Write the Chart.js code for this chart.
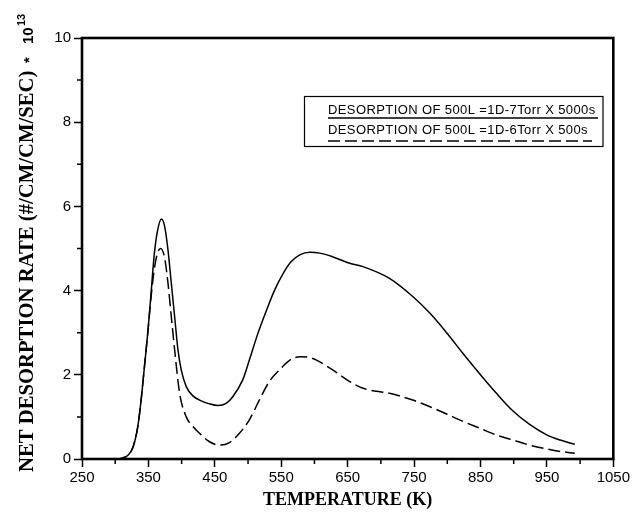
<!DOCTYPE html>
<html>
<head>
<meta charset="utf-8">
<script src="https://cdn.jsdelivr.net/npm/chart.js@4.4.1/dist/chart.umd.min.js"></script>
<style>
  html, body { margin: 0; padding: 0; background: #fff; }
  #wrap { width: 632px; height: 518px; }
</style>
</head>
<body>
<div id="wrap"><canvas id="tpdChart" width="632" height="518"></canvas></div>
<script>
// values, rate in units of 1e13 #/cm/cm/sec
const tempsA = [300, 310, 320, 327, 334, 339, 344, 349, 354, 359, 364, 369.5, 374.5, 379.5, 384.5, 389.5, 394.5, 399.5, 407, 417, 427, 442, 454.5, 467, 477, 492, 502, 515, 528, 540, 553, 565, 578, 593, 608, 628, 653, 673, 713, 748, 774, 799, 824, 849, 874, 899, 924, 949, 970, 992];
const rateA = [0, 0.02, 0.1, 0.29, 0.77, 1.40, 2.19, 2.99, 3.94, 4.89, 5.44, 5.70, 5.52, 4.96, 4.17, 3.38, 2.59, 2.11, 1.72, 1.50, 1.40, 1.31, 1.27, 1.32, 1.48, 1.88, 2.35, 2.99, 3.54, 4.01, 4.41, 4.69, 4.85, 4.91, 4.89, 4.80, 4.65, 4.57, 4.29, 3.86, 3.46, 3.00, 2.50, 2.02, 1.56, 1.14, 0.82, 0.58, 0.45, 0.35];

const tempsB = [300, 310, 320, 327, 334, 339, 344, 349, 354, 359.4, 364.4, 368.5, 374.5, 379.5, 384.5, 389.5, 397, 407, 417, 427, 442, 457, 472, 487, 502, 517, 532, 547, 563, 578, 593, 603, 628, 653, 673, 713, 748, 774, 799, 824, 849, 874, 899, 924, 949, 970, 992];
const rateB = [0, 0.02, 0.1, 0.29, 0.77, 1.40, 2.19, 2.99, 3.85, 4.57, 4.92, 5.0, 4.77, 4.17, 3.38, 2.59, 1.56, 1.0, 0.77, 0.61, 0.41, 0.33, 0.39, 0.61, 0.93, 1.40, 1.84, 2.11, 2.35, 2.43, 2.41, 2.35, 2.11, 1.84, 1.68, 1.56, 1.40, 1.24, 1.07, 0.89, 0.73, 0.57, 0.45, 0.33, 0.24, 0.18, 0.135];

const seriesLabels = ['DESORPTION OF 500L =1D-7Torr X 5000s', 'DESORPTION OF 500L =1D-6Torr X 500s'];
const xTicks = [250, 350, 450, 550, 650, 750, 850, 950, 1050];
const xMinorTicks = [300, 400, 500, 600, 700, 800, 900, 1000];
const yTicks = [0, 2, 4, 6, 8, 10];
const yMinorTicks = [1, 3, 5, 7, 9];
const yTitle = 'NET DESORPTION RATE (#/CM/CM/SEC)';
const xTitle = 'TEMPERATURE (K)';

const toPoints = (xs, ys) => xs.map((x, i) => ({ x: x, y: ys[i] }));

// frame, minor ticks, y title with exponent, boxed legend
const decorations = {
    id: 'decorations',
    afterDraw(chart) {
        const ctx = chart.ctx;
        const area = chart.chartArea;
        const xs = chart.scales.x;
        const ys = chart.scales.y;
        ctx.save();

        ctx.strokeStyle = '#000';
        ctx.lineWidth = 2.6;
        ctx.strokeRect(area.left, area.top, area.right - area.left, area.bottom - area.top);

        ctx.lineWidth = 1.5;
        ctx.beginPath();
        xMinorTicks.forEach(v => {
            const px = xs.getPixelForValue(v);
            ctx.moveTo(px, area.bottom);
            ctx.lineTo(px, area.bottom + 5);
        });
        yMinorTicks.forEach(v => {
            const py = ys.getPixelForValue(v);
            ctx.moveTo(area.left, py);
            ctx.lineTo(area.left - 5, py);
        });
        ctx.stroke();

        // y title
        ctx.fillStyle = '#000';
        ctx.translate(28, 472);
        ctx.rotate(-Math.PI / 2);
        ctx.textAlign = 'left';
        ctx.textBaseline = 'middle';
        ctx.font = 'bold 20.7px "Liberation Serif"';
        ctx.fillText(yTitle, 0, 0);
        ctx.font = 'bold 15px "Liberation Sans"';
        ctx.fillText('*', 409, 2);
        ctx.fillText('10', 428, 1);
        ctx.font = 'bold 11px "Liberation Sans"';
        ctx.fillText('13', 446, -6);
        ctx.restore();

        // legend box
        ctx.save();
        ctx.strokeStyle = '#000';
        ctx.lineWidth = 1.2;
        ctx.strokeRect(304.5, 96.5, 298.5, 50);
        ctx.fillStyle = '#000';
        ctx.font = '13px "Liberation Sans"';
        ctx.letterSpacing = '0.4px';
        ctx.textAlign = 'left';
        ctx.textBaseline = 'alphabetic';
        ctx.fillText(seriesLabels[0], 328, 114);
        ctx.fillText(seriesLabels[1], 328, 134);
        ctx.lineWidth = 1.4;
        ctx.beginPath();
        ctx.moveTo(328, 118);
        ctx.lineTo(598, 118);
        ctx.stroke();
        ctx.setLineDash([12, 5]);
        ctx.beginPath();
        ctx.moveTo(328, 141);
        ctx.lineTo(592, 141);
        ctx.stroke();
        ctx.restore();
    }
};

const tickFont = { family: 'Liberation Sans', size: 15 };

new Chart(document.getElementById('tpdChart'), {
    type: 'line',
    data: {
        datasets: [
            {
                label: seriesLabels[0],
                data: toPoints(tempsA, rateA),
                borderColor: '#000',
                borderWidth: 1.5,
                pointRadius: 0,
                fill: false,
                cubicInterpolationMode: 'monotone'
            },
            {
                label: seriesLabels[1],
                data: toPoints(tempsB, rateB),
                borderColor: '#000',
                borderWidth: 1.5,
                borderDash: [12, 5],
                pointRadius: 0,
                fill: false,
                cubicInterpolationMode: 'monotone'
            }
        ]
    },
    options: {
        responsive: false,
        animation: false,
        devicePixelRatio: 1,
        layout: { padding: { top: 38, right: 17, left: 0, bottom: 0 } },
        plugins: {
            legend: { display: false },
            tooltip: { enabled: false }
        },
        scales: {
            x: {
                type: 'linear',
                min: 250,
                max: 1050,
                afterBuildTicks: s => { s.ticks = xTicks.map(v => ({ value: v })); },
                afterFit: s => { s.height = 59; },
                border: { display: false },
                grid: { drawOnChartArea: false, tickLength: 8, tickWidth: 1.5, tickColor: '#000' },
                ticks: {
                    color: '#000',
                    font: tickFont,
                    padding: 2,
                    maxRotation: 0,
                    autoSkip: false,
                    callback: v => String(v)
                },
                title: {
                    display: true,
                    text: xTitle,
                    color: '#000',
                    font: { family: 'Liberation Serif', size: 18, weight: 'bold' },
                    padding: { top: 0, bottom: 7 }
                }
            },
            y: {
                min: 0,
                max: 10,
                afterBuildTicks: s => { s.ticks = yTicks.map(v => ({ value: v })); },
                afterFit: s => { s.width = 82; },
                border: { display: false },
                grid: { drawOnChartArea: false, tickLength: 8, tickWidth: 1.5, tickColor: '#000' },
                ticks: { color: '#000', font: tickFont, padding: 3, callback: v => String(v) }
            }
        }
    },
    plugins: [decorations]
});
</script>
</body>
</html>
